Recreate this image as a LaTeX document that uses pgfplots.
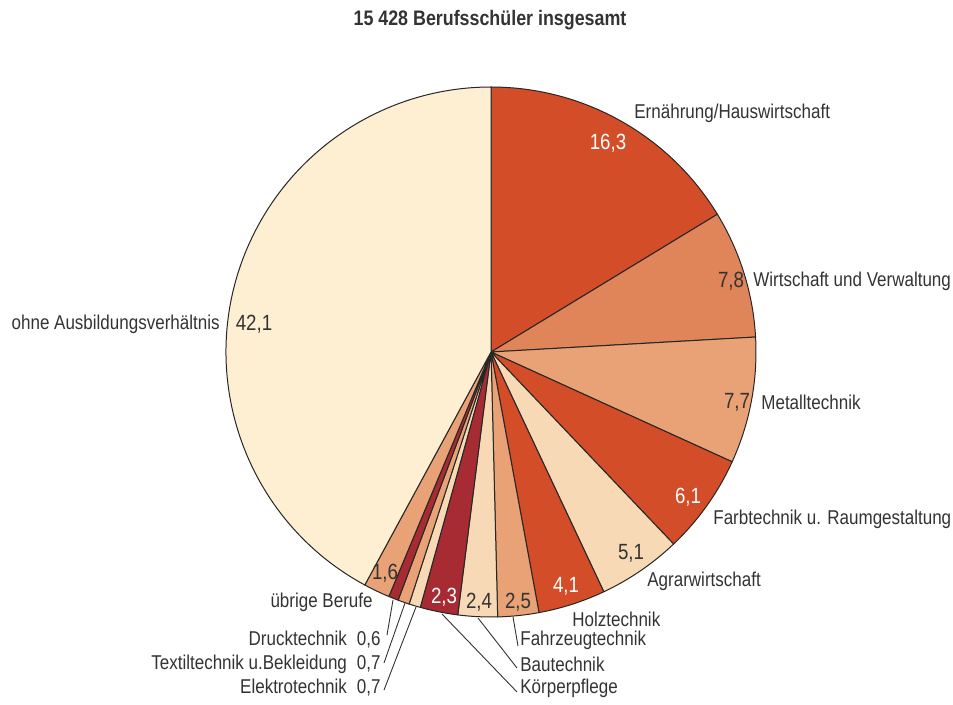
\documentclass[border=0pt]{standalone}
\usepackage{pgfplots}
\pgfplotsset{compat=1.18}
\usepackage{fontspec}
\setmainfont{Liberation Sans}[FakeStretch=0.85]
\definecolor{cA}{HTML}{D34D28}
\definecolor{cB}{HTML}{E0845A}
\definecolor{cC}{HTML}{E8A275}
\definecolor{cD}{HTML}{F7D9B6}
\definecolor{cE}{HTML}{A62B32}
\definecolor{cF}{HTML}{FEEFD3}
\definecolor{txt}{HTML}{333333}
\begin{document}
\begin{tikzpicture}
\begin{axis}[
  scale only axis, width=476.5pt, height=352.5pt,
  xmin=0, xmax=953, ymin=0, ymax=705, y dir=reverse,
  hide axis, clip=false,
]
\addplot[draw=none] coordinates {(491,352)};
% wedges: value/colour, clockwise from 12 o'clock
\gdef\startangle{90}
\foreach \v/\c in {16.3/cA, 7.8/cB, 7.7/cC, 6.1/cA, 5.1/cD, 4.1/cA, 2.5/cC, 2.4/cD, 2.3/cE, 0.7/cD, 0.7/cC, 0.6/cE, 1.6/cC, 42.1/cF} {
  \pgfmathsetmacro\endangle{\startangle-3.6*\v}
  \edef\temp{\noexpand\filldraw[fill=\c, draw=black!85, line width=0.5pt, line join=round] (axis cs:491,352) -- ++(\startangle:132.5pt) arc[start angle=\startangle, end angle=\endangle, radius=132.5pt] -- cycle;}
  \temp
  \xdef\startangle{\endangle}
}
% title
\node[font=\bfseries\fontsize{10.5}{12}\selectfont, text=txt] at (axis cs:490,20) {15 428 Berufsschüler insgesamt};
% values
\begin{scope}[every node/.style={font=\fontsize{11}{13}\selectfont, inner sep=0pt}]
\node[text=white] at (axis cs:608,143) {16,3};
\node[text=txt] at (axis cs:731,281) {7,8};
\node[text=txt] at (axis cs:737,402) {7,7};
\node[text=white] at (axis cs:688,497) {6,1};
\node[text=txt] at (axis cs:631,553) {5,1};
\node[text=white] at (axis cs:566,586) {4,1};
\node[text=txt] at (axis cs:518,602) {2,5};
\node[text=txt] at (axis cs:479,602) {2,4};
\node[text=white] at (axis cs:444,597) {2,3};
\node[text=txt] at (axis cs:385,573) {1,6};
\node[text=txt] at (axis cs:254,324) {42,1};
\end{scope}
% category names
\begin{scope}[every node/.style={font=\fontsize{10}{12}\selectfont, inner sep=0pt, text=txt}]
\node[anchor=west] at (axis cs:634,113) {Ernährung/Hauswirtschaft};
\node[anchor=west] at (axis cs:753,281) {Wirtschaft und Verwaltung};
\node[anchor=west] at (axis cs:761,402) {Metalltechnik};
\node[anchor=west] at (axis cs:713,519) {Farbtechnik u. Raumgestaltung};
\node[anchor=west] at (axis cs:647,581) {Agrarwirtschaft};
\node[anchor=west] at (axis cs:572,619) {Holztechnik};
\node[anchor=west] at (axis cs:520,640) {Fahrzeugtechnik};
\node[anchor=west] at (axis cs:520,664) {Bautechnik};
\node[anchor=west] at (axis cs:520,688) {Körperpflege};
\node[anchor=east] at (axis cs:373,602) {übrige Berufe};
\node[anchor=east] at (axis cs:381,640) {Drucktechnik\hspace{5pt}0,6};
\node[anchor=east] at (axis cs:381,664) {Textiltechnik u.Bekleidung\hspace{5pt}0,7};
\node[anchor=east] at (axis cs:381,688) {Elektrotechnik\hspace{5pt}0,7};
\node[anchor=east] at (axis cs:220,324) {ohne Ausbildungsverhältnis};
\end{scope}
% leader lines
\begin{scope}[draw=txt, line width=0.45pt]
\draw (axis cs:513,617) -- (axis cs:518,646);
\draw (axis cs:478,618) -- (axis cs:517,668);
\draw (axis cs:442,614) -- (axis cs:517,692);
\draw (axis cs:393,600) -- (axis cs:387,635);
\draw (axis cs:405,603) -- (axis cs:384,663);
\draw (axis cs:416,607) -- (axis cs:384,690);
\end{scope}
\end{axis}
\pgfresetboundingbox
\path (current axis.south west) rectangle (current axis.north east);
\end{tikzpicture}
\end{document}
